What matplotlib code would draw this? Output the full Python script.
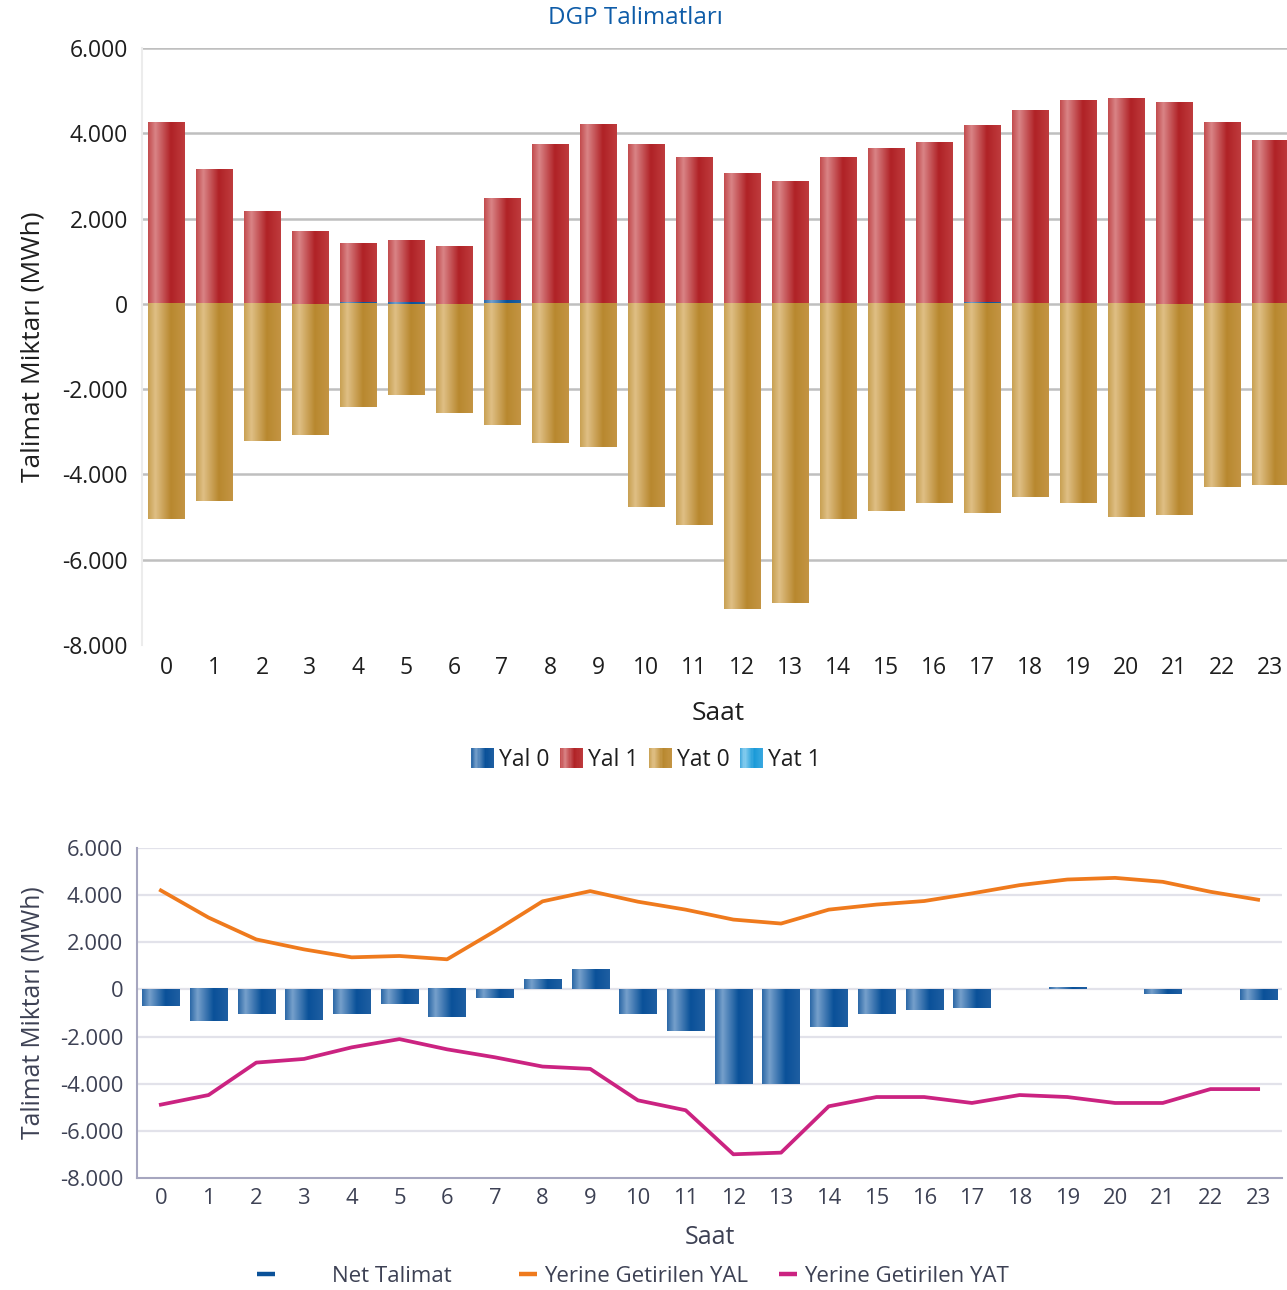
import numpy as np
import matplotlib
matplotlib.use("Agg")
import matplotlib.pyplot as plt
from matplotlib.colors import LinearSegmentedColormap
from matplotlib.patches import Rectangle
from matplotlib.lines import Line2D
from matplotlib.legend_handler import HandlerBase

plt.rcParams['font.family'] = ['Open Sans', 'DejaVu Sans']

# ---------------- data ----------------
hours = list(range(24))
hour_labels = [str(h) for h in hours]

yal0 = [0, 0, 0, 0, 50, 50, 0, 100, 0, 0, 0, 0, 0, 0, 0, 0, 0, 50, 0, 0, 0, 0, 0, 0]
yal1 = [4268, 3143, 2158, 1689, 1380, 1450, 1337, 2390, 3729, 4198, 3729, 3447,
        3049, 2861, 3424, 3635, 3776, 4150, 4526, 4761, 4808, 4714, 4245, 3823]
yat0 = [-5042, -4620, -3213, -3072, -2416, -2134, -2556, -2838, -3260, -3354, -4761, -5183,
        -7153, -7012, -5042, -4855, -4667, -4902, -4526, -4667, -4995, -4948, -4292, -4245]
yat1 = [0] * 24

net = [-690, -1360, -1030, -1280, -1030, -610, -1190, -360, 420, 830, -1030, -1780,
       -4030, -4030, -1610, -1030, -860, -780, 0, 80, 0, -190, 0, -440]
yal_line = [4200, 3048, 2121, 1699, 1362, 1419, 1278, 2472, 3736, 4171, 3722, 3385,
            2963, 2795, 3385, 3600, 3750, 4073, 4424, 4663, 4733, 4565, 4143, 3806]
yat_line = [-4888, -4480, -3104, -2949, -2458, -2107, -2542, -2879, -3272, -3371, -4705, -5126,
            -6994, -6924, -4958, -4565, -4565, -4817, -4480, -4565, -4817, -4817, -4228, -4228]

yticks = [6000, 4000, 2000, 0, -2000, -4000, -6000, -8000]
ytick_labels = ['6.000', '4.000', '2.000', '0', '-2.000', '-4.000', '-6.000', '-8.000']

# ---------------- styles ----------------
def mk_cmap(name, cols):
    pos = [0.0, 0.2, 0.62, 1.0]
    return LinearSegmentedColormap.from_list(name, list(zip(pos, cols)))

cm_blue = mk_cmap('b', ['#2a67a6', '#76a0cb', '#0a5199', '#1f5fa2'])
cm_red = mk_cmap('r', ['#c24a4c', '#d98486', '#b02226', '#bf3c3e'])
cm_gold = mk_cmap('g', ['#c8a052', '#dfbf85', '#b8882f', '#c49544'])
cm_lblue = mk_cmap('lb', ['#3fa6dc', '#86cdef', '#1a9ad8', '#3aa8e0'])

grad = np.linspace(0, 1, 256)[None, :]


def grad_bars(ax, x, h, bottom, cmap, width, z=2):
    bars = ax.bar(x, h, width, bottom=bottom, color='none', edgecolor='none', zorder=z)
    for r in bars:
        hh = r.get_height()
        if hh == 0:
            continue
        x0, y0, w = r.get_x(), r.get_y(), r.get_width()
        ax.imshow(grad, cmap=cmap, extent=[x0, x0 + w, y0, y0 + hh], aspect='auto',
                  interpolation='bilinear', zorder=z)
    return bars


class HandlerGrad(HandlerBase):
    def __init__(self, cmap):
        super().__init__()
        self.cmap = cmap

    def create_artists(self, legend, orig_handle, xdescent, ydescent, width, height, fontsize, trans):
        n = 20
        arts = []
        for i in range(n):
            c = self.cmap((i + 0.5) / n)
            r = Rectangle((-xdescent + width * i / n, -ydescent), width / n * 1.05, height,
                          facecolor=c, edgecolor='none', transform=trans)
            arts.append(r)
        return arts


W, H = 1287, 1290
fig = plt.figure(figsize=(W / 100, H / 100), dpi=100)

# ---------------- top chart ----------------
tc1 = '#1e1e1e'
ax1 = fig.add_axes([142 / W, 1 - 645 / H, (1294 - 142) / W, (645 - 48) / H])
x = np.arange(24)
bw = 0.76
grad_bars(ax1, x, yal0, 0, cm_blue, bw)
grad_bars(ax1, x, yal1, yal0, cm_red, bw)
grad_bars(ax1, x, yat0, 0, cm_gold, bw)
grad_bars(ax1, x, yat1, yat0, cm_lblue, bw)
ax1.set_xlim(-0.5, 23.5)
ax1.set_ylim(-8000, 6000)
ax1.set_yticks(yticks)
ax1.set_yticklabels(ytick_labels)
ax1.set_xticks(x)
ax1.set_xticklabels(hour_labels)
ax1.tick_params(length=0, labelsize=16.5, colors=tc1, pad=10)
ax1.tick_params(axis='x', pad=8)
for g in [6000, 4000, 2000, 0, -2000, -4000, -6000]:
    ax1.axhline(g, color='#bfbfbf', lw=1.8, zorder=1)
for s in ['top', 'right', 'bottom']:
    ax1.spines[s].set_visible(False)
ax1.spines['left'].set_color('#ececec')
ax1.spines['left'].set_linewidth(1.5)
ax1.set_ylabel('Talimat Miktarı (MWh)', fontsize=19, color=tc1, labelpad=12)
ax1.set_xlabel('Saat', fontsize=19, color=tc1, labelpad=15)
ax1.set_title('DGP Talimatları', fontsize=17.4, color='#0e5ca8', pad=17, x=(635 - 142) / (1294 - 142))

hs = [Rectangle((0, 0), 1, 1) for _ in range(4)]
cms = [cm_blue, cm_red, cm_gold, cm_lblue]
leg1 = fig.legend(hs, ['Yal 0', 'Yal 1', 'Yat 0', 'Yat 1'], loc='center',
                  bbox_to_anchor=(646 / W, 1 - 760 / H), ncol=4, frameon=False,
                  fontsize=16.5, handlelength=1.0, handleheight=1.0, handletextpad=0.22,
                  columnspacing=0.45, borderpad=0,
                  handler_map={h: HandlerGrad(c) for h, c in zip(hs, cms)})
for t in leg1.get_texts():
    t.set_color(tc1)

# ---------------- bottom chart ----------------
tc = '#3d4154'
ax2 = fig.add_axes([137 / W, 1 - 1178 / H, (1282 - 137) / W, (1178 - 848) / H])
grad_bars(ax2, x, net, 0, cm_blue, 0.78, z=2)
ax2.plot(x, yal_line, color='#ef7a1d', lw=2.7, zorder=3, solid_joinstyle='round')
ax2.plot(x, yat_line, color='#cb2381', lw=2.7, zorder=3, solid_joinstyle='round')
ax2.set_xlim(-0.5, 23.5)
ax2.set_ylim(-8000, 6000)
ax2.set_yticks(yticks)
ax2.set_yticklabels(ytick_labels)
ax2.set_xticks(x)
ax2.set_xticklabels(hour_labels)
ax2.tick_params(length=0, labelsize=15.8, colors=tc, pad=10)
ax2.tick_params(axis='x', pad=7)
for g in [6000, 4000, 2000, 0, -2000, -4000, -6000]:
    ax2.axhline(g, color='#e2e2ea', lw=1.6, zorder=1)
for s in ['top', 'right']:
    ax2.spines[s].set_visible(False)
for s in ['left', 'bottom']:
    ax2.spines[s].set_color('#a6a6bf')
    ax2.spines[s].set_linewidth(1.5)
ax2.set_ylabel('Talimat Miktarı (MWh)', fontsize=17.7, color=tc, labelpad=10)
ax2.set_xlabel('Saat', fontsize=18, color=tc, labelpad=12)

ly = 1 - 1276 / H
entries = [
    (Line2D([0], [0], color='#0b5299', lw=3.2, solid_capstyle='butt'), 'Net Talimat', 257, 2.55),
    (Line2D([0], [0], color='#ef7a1d', lw=3.2, solid_capstyle='butt'), 'Yerine Getirilen YAL', 519, 0.3),
    (Line2D([0], [0], color='#cb2381', lw=3.2, solid_capstyle='butt'), 'Yerine Getirilen YAT', 779, 0.3),
]
for hnd, lab, px, pad in entries:
    lg = fig.legend([hnd], [lab], loc='center left', bbox_to_anchor=(px / W, ly),
                    frameon=False, fontsize=16, handlelength=0.82, handletextpad=pad,
                    borderpad=0, borderaxespad=0)
    for t in lg.get_texts():
        t.set_color(tc)

fig.savefig('out.png', dpi=100)
